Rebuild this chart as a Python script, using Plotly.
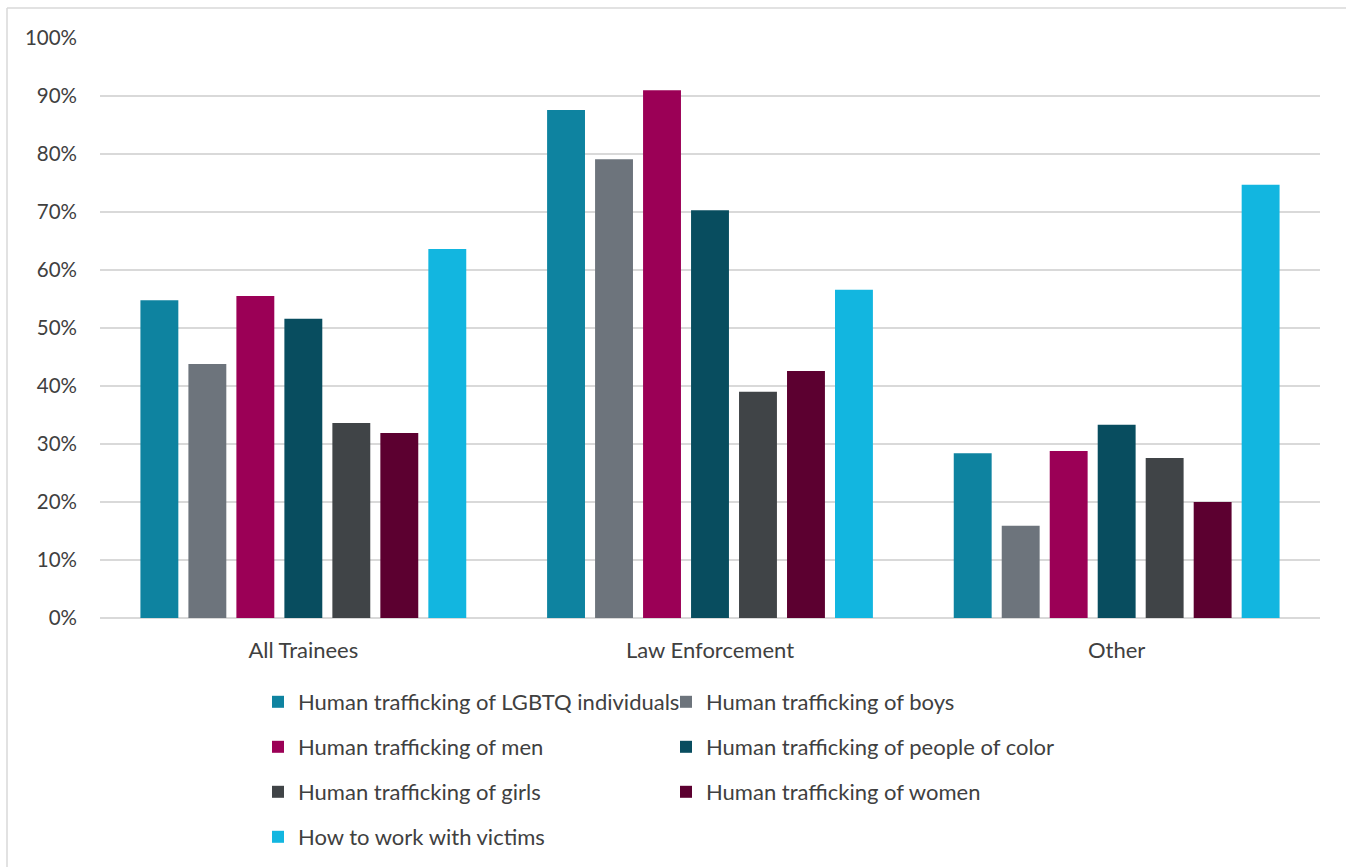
import plotly.graph_objects as go

categories = ["All Trainees", "Law Enforcement", "Other"]

series_names = [
    "Human trafficking of LGBTQ individuals",
    "Human trafficking of boys",
    "Human trafficking of men",
    "Human trafficking of people of color",
    "Human trafficking of girls",
    "Human trafficking of women",
    "How to work with victims",
]

lgbtq = [0.548, 0.876, 0.284]
boys = [0.438, 0.791, 0.159]
men = [0.555, 0.910, 0.288]
people_of_color = [0.516, 0.703, 0.333]
girls = [0.336, 0.390, 0.276]
women = [0.319, 0.426, 0.200]
victims = [0.636, 0.566, 0.747]

series_values = [lgbtq, boys, men, people_of_color, girls, women, victims]
colors = ["#0E83A0", "#6D747C", "#9B0056", "#084D5F", "#404447", "#5C0030", "#12B6E0"]

# left legend column holds the even-indexed series, right column the odd ones
legend_ids = ["legend", "legend2", "legend", "legend2", "legend", "legend2", "legend"]

W, H = 1346, 867
L, R, T, B = 100, 1320, 38, 618
pw, ph = R - L, B - T

def px_x(p):
    return (p - L) / pw

def px_y(p):
    return (B - p) / ph

fig = go.Figure()
for name, vals, col, lg in zip(series_names, series_values, colors, legend_ids):
    fig.add_trace(go.Bar(
        x=categories, y=vals, name=name,
        marker=dict(color=col, line=dict(width=0)),
        legend=lg, legendgroup=name,
    ))

font_family = "Lato, 'Open Sans', sans-serif"
text_color = "#404040"

legend_common = dict(
    orientation="v",
    xanchor="left", yanchor="top",
    font=dict(family=font_family, size=22, color=text_color),
    bgcolor="rgba(0,0,0,0)",
    tracegroupgap=13.4,
    itemclick=False, itemdoubleclick=False,
    traceorder="grouped",
)

fig.update_layout(
    width=W, height=H,
    margin=dict(l=L, r=W - R, t=T, b=H - B, pad=0, autoexpand=False),
    paper_bgcolor="white", plot_bgcolor="white",
    barmode="group", bargap=0.174, bargroupgap=0.21,
    font=dict(family=font_family, size=20, color=text_color),
    showlegend=True,
    legend=dict(x=px_x(258), y=px_y(681), **legend_common),
    legend2=dict(x=px_x(666), y=px_y(681), **legend_common),
    xaxis=dict(
        showgrid=False, showline=False, zeroline=False, ticks="",
        tickfont=dict(size=22, color=text_color),
        ticklabelstandoff=17,
    ),
    yaxis=dict(
        range=[0, 1], tickvals=[i / 10 for i in range(11)],
        tickformat=".0%",
        showgrid=True, gridcolor="#D9D9D9", gridwidth=1.5,
        zeroline=True, zerolinecolor="#D9D9D9", zerolinewidth=1.5,
        showline=False, ticks="",
        tickfont=dict(size=20.5, color=text_color),
        ticklabelstandoff=22,
    ),
    shapes=[
        dict(type="line", xref="paper", yref="paper",
             x0=px_x(7), x1=px_x(W + 5), y0=px_y(8), y1=px_y(8),
             line=dict(color="#D9D9D9", width=1.5)),
        dict(type="line", xref="paper", yref="paper",
             x0=px_x(7), x1=px_x(7), y0=px_y(8), y1=px_y(H + 5),
             line=dict(color="#D9D9D9", width=1.5)),
    ],
)

fig.write_html("out.html")
